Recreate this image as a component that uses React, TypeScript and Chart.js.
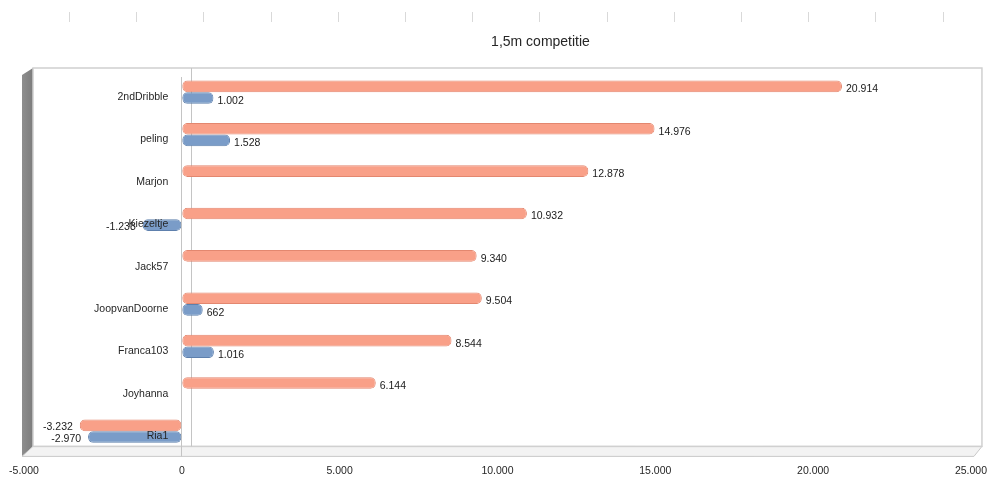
import React, { useEffect, useRef } from "react";
import { Chart, registerables } from "chart.js";

Chart.register(...registerables);

const categories = ["2ndDribble", "peling", "Marjon", "Kiezeltje", "Jack57", "JoopvanDoorne", "Franca103", "Joyhanna", "Ria1"];
const seriesSalmon: (number | null)[] = [20914, 14976, 12878, 10932, 9340, 9504, 8544, 6144, -3232];
const seriesBlue: (number | null)[] = [1002, 1528, null, -1238, null, 662, 1016, null, -2970];
const xMin = -5000;
const xMax = 25000;
const xStep = 5000;
const chartTitle = "1,5m competitie";

const FONT = "'Liberation Sans', Arial, sans-serif";

function fmt(v: number): string {
  const sign = v < 0 ? "-" : "";
  const s = Math.abs(Math.round(v)).toString();
  return sign + s.replace(/\B(?=(\d{3})+(?!\d))/g, ".");
}

const framePlugin = {
  id: "frame3d",
  beforeDraw(chart: any) {
    const { ctx, chartArea: a, scales } = chart;
    const zx = scales.x.getPixelForValue(0);
    const L = a.left, R = a.right, T = a.top, B = a.bottom;
    const bl = L + 9, bt = T - 3, br = R + 11, bb = B - 6;
    const fl = L - 2, fb = B + 4;
    ctx.save();
    // ruler marks at top
    ctx.strokeStyle = "#d9d9d9";
    ctx.lineWidth = 1;
    for (let i = 0; i < 14; i++) {
      const x = Math.round(69 + i * 67.2) + 0.5;
      ctx.beginPath();
      ctx.moveTo(x, 12);
      ctx.lineTo(x, 22);
      ctx.stroke();
    }
    // left wall
    const g = ctx.createLinearGradient(fl, 0, bl, 0);
    g.addColorStop(0, "#8e8e8e");
    g.addColorStop(1, "#7c7c7c");
    ctx.fillStyle = g;
    ctx.beginPath();
    ctx.moveTo(fl, bt + 7);
    ctx.lineTo(bl, bt);
    ctx.lineTo(bl, bb);
    ctx.lineTo(fl, fb);
    ctx.closePath();
    ctx.fill();
    // floor
    ctx.fillStyle = "#f3f3f3";
    ctx.strokeStyle = "#c9c9c9";
    ctx.beginPath();
    ctx.moveTo(fl, fb);
    ctx.lineTo(bl, bb);
    ctx.lineTo(br, bb);
    ctx.lineTo(br - 8, fb);
    ctx.closePath();
    ctx.fill();
    ctx.stroke();
    // back wall
    ctx.strokeStyle = "#d0d0d0";
    ctx.lineWidth = 1.5;
    ctx.strokeRect(bl, bt, br - bl, bb - bt);
    // zero lines
    ctx.strokeStyle = "#c4c4c4";
    ctx.lineWidth = 1;
    ctx.beginPath();
    ctx.moveTo(Math.round(zx + 9) + 0.5, bt);
    ctx.lineTo(Math.round(zx + 9) + 0.5, bb);
    ctx.moveTo(Math.round(zx - 1) + 0.5, bt + 9);
    ctx.lineTo(Math.round(zx - 1) + 0.5, fb);
    ctx.stroke();
    // title
    ctx.fillStyle = "#262626";
    ctx.font = "14px " + FONT;
    ctx.textAlign = "center";
    ctx.textBaseline = "middle";
    ctx.fillText(chartTitle, chart.width / 2 + 47, 42);
    ctx.restore();
  },
};

const labelPlugin = {
  id: "valueLabels",
  afterDatasetsDraw(chart: any) {
    const { ctx } = chart;
    ctx.save();
    ctx.font = "10.5px " + FONT;
    ctx.fillStyle = "#1a1a1a";
    ctx.textBaseline = "middle";
    chart.data.datasets.forEach((ds: any, di: number) => {
      const meta = chart.getDatasetMeta(di);
      meta.data.forEach((el: any, i: number) => {
        const v = ds.data[i];
        if (v === null || v === undefined) return;
        if (v >= 0) {
          ctx.textAlign = "left";
          ctx.fillText(fmt(v), el.x + 4, el.y + 3);
        } else {
          ctx.textAlign = "right";
          ctx.fillText(fmt(v), el.x - 7, el.y + 2);
        }
      });
    });
    ctx.restore();
  },
};

export default function App() {
  const ref = useRef<HTMLCanvasElement | null>(null);
  useEffect(() => {
    document.body.style.margin = "0";
    if (!ref.current) return;
    const chart = new Chart(ref.current, {
      type: "bar",
      data: {
        labels: categories,
        datasets: [
          {
            label: "A",
            data: seriesSalmon,
            backgroundColor: "#F9A088",
            borderColor: "#E3876F",
            borderWidth: 1,
            borderRadius: 5,
            borderSkipped: false,
            categoryPercentage: 0.55,
            barPercentage: 1.0,
          },
          {
            label: "B",
            data: seriesBlue,
            backgroundColor: "#7A9CC8",
            borderColor: "#5E80AD",
            borderWidth: 1,
            borderRadius: 5,
            borderSkipped: false,
            categoryPercentage: 0.55,
            barPercentage: 1.0,
          },
        ],
      },
      options: {
        indexAxis: "y",
        animation: false,
        responsive: true,
        maintainAspectRatio: false,
        layout: { padding: { top: 71, left: 24, right: 12, bottom: 0 } },
        plugins: {
          legend: { display: false },
          title: { display: false },
          tooltip: { enabled: false },
        },
        scales: {
          x: {
            type: "linear",
            min: xMin,
            max: xMax,
            grid: {
              display: true,
              color: "rgba(0,0,0,0)",
              drawOnChartArea: false,
              drawTicks: true,
              tickLength: 12,
            },
            border: { display: false },
            ticks: {
              stepSize: xStep,
              padding: 0,
              color: "#262626",
              font: { family: FONT, size: 10.5 },
              callback: (v: any) => fmt(Number(v)),
            },
          },
          y: {
            type: "category",
            position: { x: -430 } as any,
            grid: { display: false, drawTicks: false },
            border: { display: false },
            ticks: {
              z: 1,
              padding: 0,
              labelOffset: 5,
              color: "#262626",
              font: { family: FONT, size: 10.5 },
            },
          },
        },
      },
      plugins: [framePlugin, labelPlugin],
    });
    return () => chart.destroy();
  }, []);
  return (
    <div style={{ width: 987, height: 477, position: "relative" }}>
      <canvas ref={ref} />
    </div>
  );
}
